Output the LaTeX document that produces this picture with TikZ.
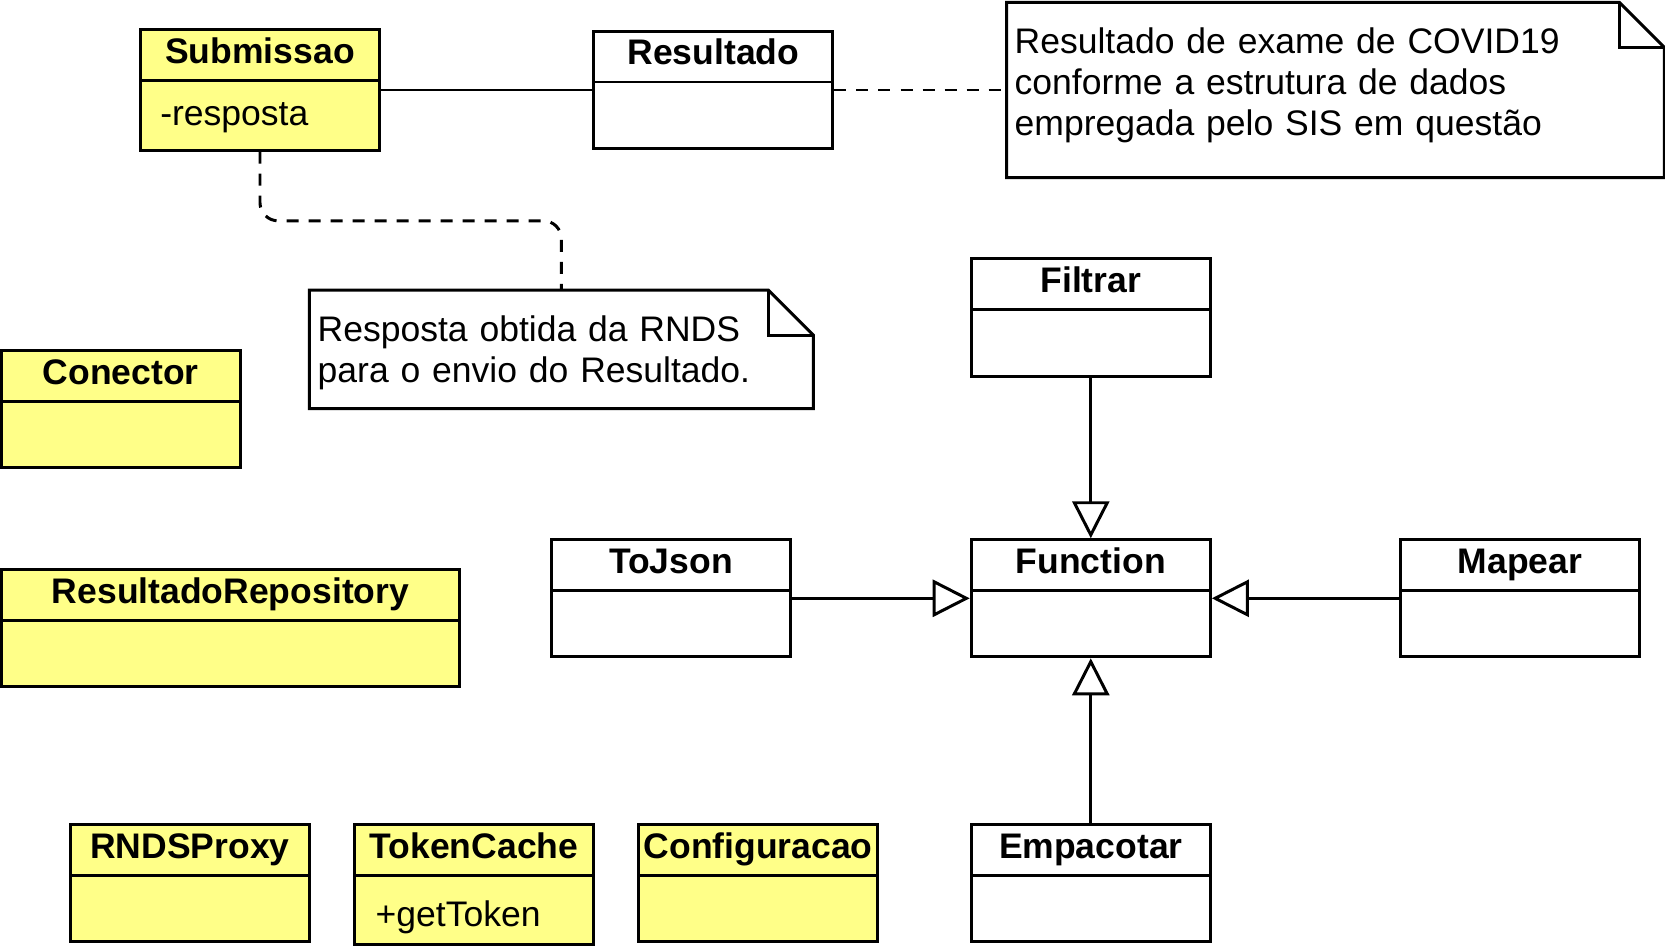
\documentclass[tikz,border=0pt]{standalone}
\usepackage{fontspec}
\setmainfont{Liberation Sans}
\usepackage{tikz}
\usetikzlibrary{arrows.meta, calc}
\definecolor{classyellow}{HTML}{FFFF88}
\newcommand{\umlfont}{\fontsize{10.1pt}{11.67pt}\selectfont}

\begin{document}
\begin{tikzpicture}[
    x=0.01cm, y=-0.01cm,
    umlclass/.style={draw, line width=0.85pt, fill=white, minimum width=2.39cm, inner sep=0pt, text height=3.35mm, text depth=8.35mm, font=\umlfont\bfseries,
        path picture={\draw[line width=0.85pt] ([yshift=-5.05mm]path picture bounding box.north west) -- ([yshift=-5.05mm]path picture bounding box.north east);}},
    attr/.style={inner sep=0pt, anchor=base west, font=\umlfont},
    notebox/.style={inner sep=0pt},
    notetext/.style={inner sep=0pt, anchor=base west, align=left, font=\umlfont},
    border/.style={line width=0.85pt},
    inherit/.style={-{Triangle[open, length=3.7mm, width=3.7mm]}, line width=0.85pt},
    assoc/.style={line width=0.85pt},
    dashline/.style={line width=0.85pt, dash pattern=on 1.2mm off 1mm}
]
    \useasboundingbox (0,0) rectangle (1665,948);

    % Top row
    \node[umlclass, fill=classyellow, text depth=8.65mm] (submissao) at (260,90) {Submissao};
    \node[attr] (resposta) at (159.6,125.5) {-resposta};
    \node[umlclass] (resultado) at (713.4,90) {Resultado};

    % Notes
    \node[notebox, minimum width=6.56cm, minimum height=1.736cm] (nota2) at (1335.5,90) {};
    \draw[border] (nota2.north west) -- ([xshift=-4.5mm]nota2.north east) -- ([yshift=-4.5mm]nota2.north east) -- (nota2.south east) -- (nota2.south west) -- cycle;
    \draw[border] ([xshift=-4.5mm]nota2.north east) |- ([yshift=-4.5mm]nota2.north east);
    \node[notetext, text width=6.4cm] (nota2txt) at (1014,53) {Resultado de exame de COVID19\\conforme a estrutura de dados\\empregada pelo SIS em questão};

    \node[notebox, minimum width=5.022cm, minimum height=1.17cm] (nota1) at (561.4,349.3) {};
    \draw[border] (nota1.north west) -- ([xshift=-4.5mm]nota1.north east) -- ([yshift=-4.5mm]nota1.north east) -- (nota1.south east) -- (nota1.south west) -- cycle;
    \draw[border] ([xshift=-4.5mm]nota1.north east) |- ([yshift=-4.5mm]nota1.north east);
    \node[notetext, text width=4.9cm] (nota1txt) at (317,341.7) {Resposta obtida da RNDS\\para o envio do Resultado.};

    % Left column
    \node[umlclass, fill=classyellow] (conector) at (120.7,409.3) {Conector};
    \node[umlclass, fill=classyellow, minimum width=4.58cm] (repositorio) at (230.5,628.3) {ResultadoRepository};

    % Functions
    \node[umlclass] (filtrar) at (1090.8,317.5) {Filtrar};
    \node[umlclass] (function) at (1090.8,598.3) {Function};
    \node[umlclass] (tojson) at (670.9,598.3) {ToJson};
    \node[umlclass] (mapear) at (1520.1,598.3) {Mapear};
    \node[umlclass] (empacotar) at (1090.8,883.3) {Empacotar};

    % Bottom row
    \node[umlclass, fill=classyellow] (rndsproxy) at (189.9,883.3) {RNDSProxy};
    \node[umlclass, fill=classyellow, text depth=8.65mm] (tokencache) at (474,884.7) {TokenCache};
    \node[attr] (gettoken) at (375,926) {+getToken};
    \node[umlclass, fill=classyellow] (configuracao) at (758.2,883.3) {Configuracao};

    % Connections
    \draw[assoc] (submissao) -- (resultado);
    \draw[dashline] (resultado) -- (nota2);
    \draw[dashline, rounded corners=1.8mm] (submissao.south) |- ($(submissao.south)!0.5!(nota1.north)$) -| (nota1.north);
    \draw[inherit] (filtrar) -- (function);
    \draw[inherit] (tojson) -- (function);
    \draw[inherit] (mapear) -- (function);
    \draw[inherit] (empacotar) -- (function);
\end{tikzpicture}
\end{document}
